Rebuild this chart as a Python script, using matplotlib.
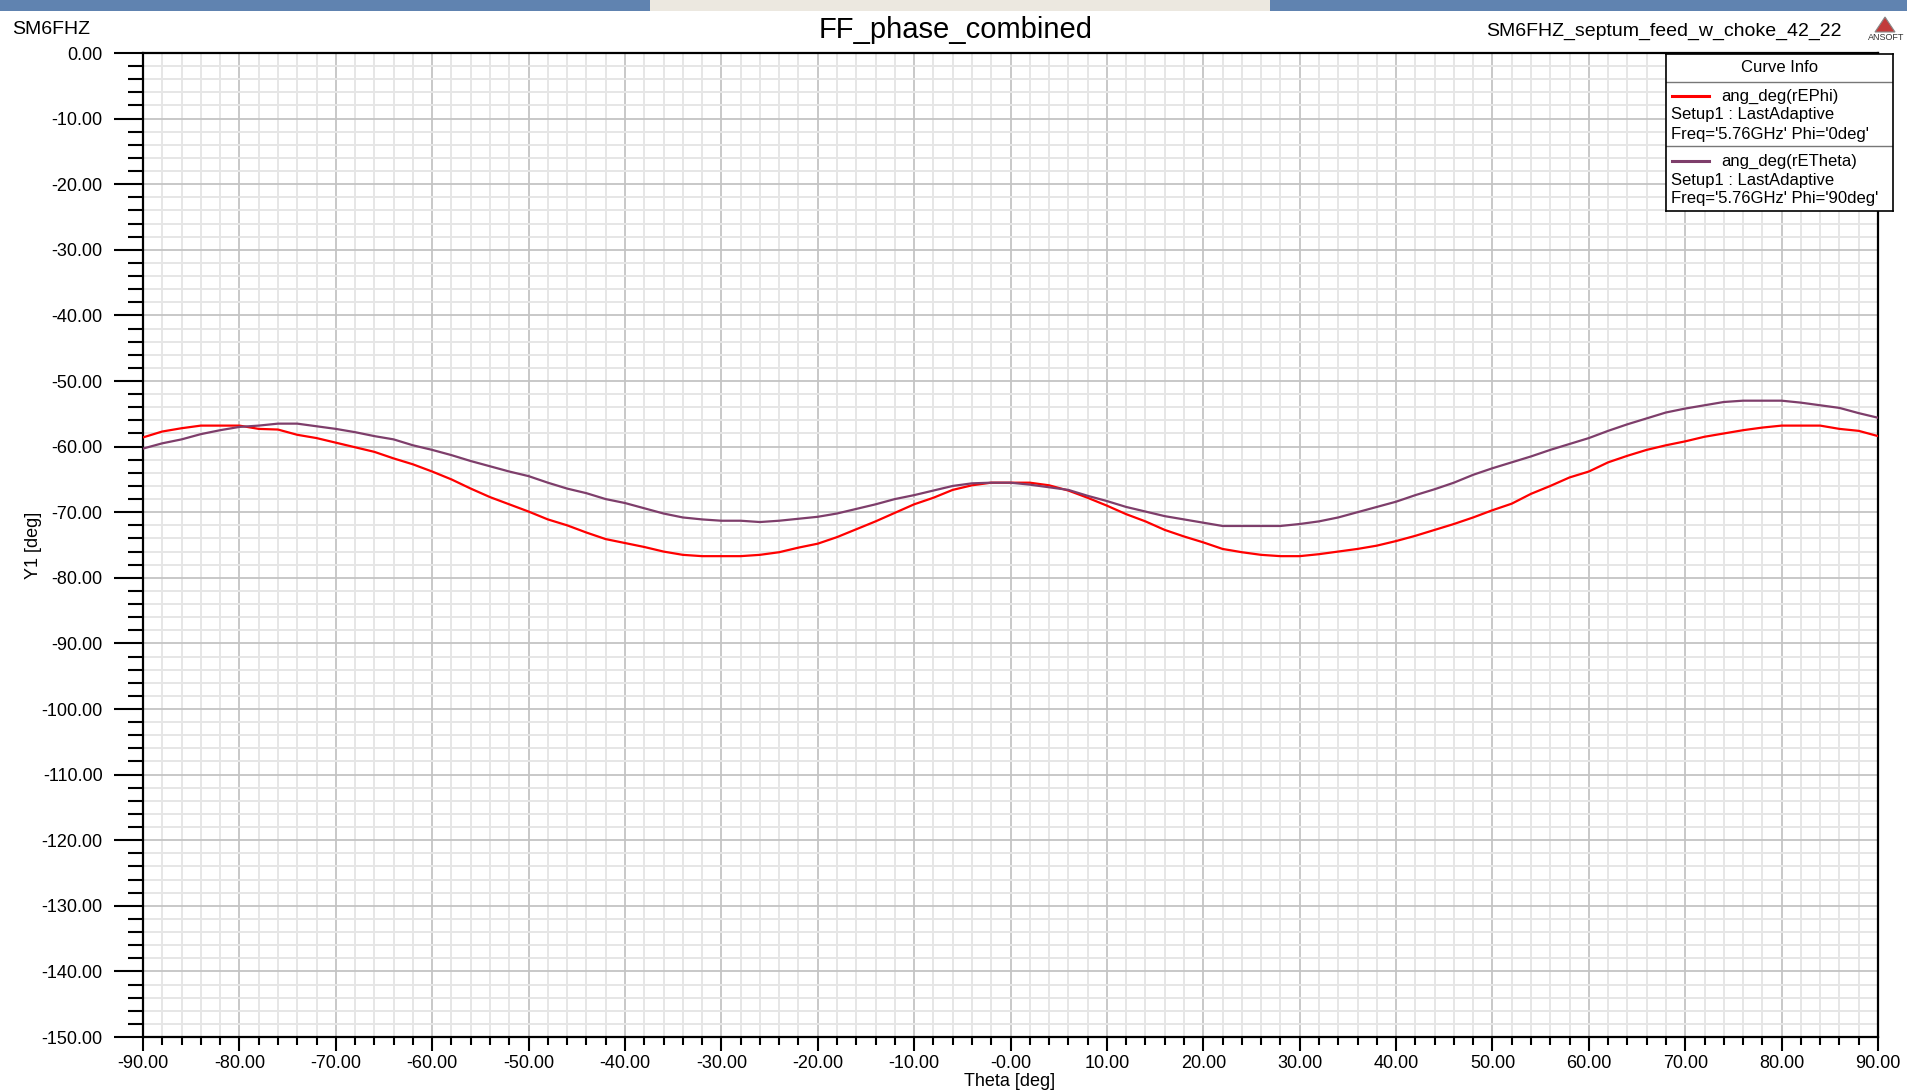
"""
FF_phase_combined - far-field phase of the septum feed (HFSS style plot)
"""

import matplotlib
matplotlib.use("Agg")
import matplotlib.pyplot as plt
from matplotlib.patches import Rectangle, Polygon
from matplotlib.ticker import MultipleLocator

plt.rcParams["font.family"] = ["Liberation Sans", "DejaVu Sans"]

W, H = 1907, 1092

# theta sweep, 2 deg steps
theta = list(range(-90, 91, 2))

# ang_deg(rEPhi), Phi = 0deg
phase_ephi = [
    -58.6, -57.7, -57.2, -56.8, -56.8, -56.8, -57.3, -57.4, -58.2, -58.7,
    -59.4, -60.1, -60.8, -61.8, -62.7, -63.8, -65.0, -66.4, -67.7, -68.8,
    -69.9, -71.1, -72.0, -73.1, -74.1, -74.7, -75.3, -76.0, -76.5, -76.7,
    -76.7, -76.7, -76.5, -76.1, -75.4, -74.8, -73.8, -72.6, -71.4, -70.1,
    -68.8, -67.8, -66.6, -65.9, -65.5, -65.5, -65.5, -65.9, -66.7, -67.8,
    -69.0, -70.3, -71.4, -72.7, -73.7, -74.6, -75.6, -76.1, -76.5, -76.7,
    -76.7, -76.4, -76.0, -75.6, -75.1, -74.4, -73.6, -72.7, -71.8, -70.8,
    -69.7, -68.7, -67.2, -66.0, -64.7, -63.8, -62.4, -61.4, -60.5, -59.8,
    -59.2, -58.5, -58.0, -57.5, -57.1, -56.8, -56.8, -56.8, -57.3, -57.6,
    -58.4,
]

# ang_deg(rETheta), Phi = 90deg
phase_etheta = [
    -60.3, -59.5, -58.9, -58.1, -57.5, -57.0, -56.8, -56.5, -56.5, -56.9,
    -57.3, -57.8, -58.4, -58.9, -59.8, -60.5, -61.3, -62.2, -63.0, -63.8,
    -64.5, -65.5, -66.4, -67.1, -68.0, -68.6, -69.4, -70.2, -70.8, -71.1,
    -71.3, -71.3, -71.5, -71.3, -71.0, -70.7, -70.2, -69.5, -68.8, -68.0,
    -67.4, -66.7, -66.0, -65.6, -65.5, -65.5, -65.8, -66.2, -66.6, -67.5,
    -68.3, -69.2, -69.9, -70.6, -71.1, -71.6, -72.1, -72.1, -72.1, -72.1,
    -71.8, -71.4, -70.8, -70.0, -69.2, -68.4, -67.4, -66.5, -65.5, -64.3,
    -63.3, -62.4, -61.5, -60.5, -59.6, -58.7, -57.6, -56.6, -55.7, -54.8,
    -54.2, -53.7, -53.2, -53.0, -53.0, -53.0, -53.3, -53.7, -54.1, -54.9,
    -55.6,
]

x_ticks = list(range(-90, 91, 10))
x_tick_labels = ["-90.00", "-80.00", "-70.00", "-60.00", "-50.00", "-40.00",
                 "-30.00", "-20.00", "-10.00", "-0.00", "10.00", "20.00",
                 "30.00", "40.00", "50.00", "60.00", "70.00", "80.00", "90.00"]
y_ticks = list(range(0, -151, -10))
y_tick_labels = [f"{v:.2f}" for v in y_ticks]

legend_rows = [
    ("ang_deg(rEPhi)", "Setup1 : LastAdaptive", "Freq='5.76GHz' Phi='0deg'", "#ff0000"),
    ("ang_deg(rETheta)", "Setup1 : LastAdaptive", "Freq='5.76GHz' Phi='90deg'", "#7e3e6b"),
]


def px(x, y):
    """pixel (from top-left) -> figure fraction"""
    return x / W, 1 - y / H


fig = plt.figure(figsize=(W / 100, H / 100), dpi=100)
fig.patch.set_facecolor("white")

# window title strip of the screenshot
fig.add_artist(Rectangle(px(0, 11), 1, 11 / H, transform=fig.transFigure,
                         facecolor="#6083b0", edgecolor="none"))
fig.add_artist(Rectangle(px(650, 11), 620 / W, 11 / H, transform=fig.transFigure,
                         facecolor="#ece8e0", edgecolor="none"))

ax = fig.add_axes([143 / W, 1 - 1037 / H, (1878 - 143) / W, (1037 - 53) / H])

ax.plot(theta, phase_ephi, color=legend_rows[0][3], lw=1.6, zorder=3)
ax.plot(theta, phase_etheta, color=legend_rows[1][3], lw=1.6, zorder=3)

ax.set_xlim(-90, 90)
ax.set_ylim(-150, 0)
ax.set_xticks(x_ticks)
ax.set_xticklabels(x_tick_labels)
ax.set_yticks(y_ticks)
ax.set_yticklabels(y_tick_labels)
ax.xaxis.set_minor_locator(MultipleLocator(2))
ax.yaxis.set_minor_locator(MultipleLocator(2))

ax.set_axisbelow(True)
ax.grid(which="minor", color="#e6e6e6", lw=1.4)
ax.grid(which="major", color="#c4c4c4", lw=1.3)

for s in ax.spines.values():
    s.set_color("black")
    s.set_linewidth(1.6)

ax.tick_params(axis="y", which="major", direction="out", length=21, width=1.5,
               pad=8, labelsize=13, colors="black")
ax.tick_params(axis="y", which="minor", direction="out", length=11, width=1.5)
ax.tick_params(axis="x", which="major", direction="out", length=10, width=1.5,
               pad=3, labelsize=13, colors="black")
ax.tick_params(axis="x", which="minor", direction="out", length=6, width=1.5)

fig.text(*px(1010, 1081), "Theta [deg]", ha="center", va="center", fontsize=13)
fig.text(*px(33, 545), "Y1 [deg]", ha="center", va="center", fontsize=13,
         rotation=90)

# header texts
fig.text(*px(12, 30), "SM6FHZ", ha="left", va="center", fontsize=14)
fig.text(*px(956, 30), "FF_phase_combined", ha="center", va="center", fontsize=21)
fig.text(*px(1842, 31), "SM6FHZ_septum_feed_w_choke_42_22", ha="right",
         va="center", fontsize=14)

# ANSOFT logo
fig.add_artist(Polygon([px(1875, 32), px(1885, 17), px(1895, 32)], closed=True,
                       transform=fig.transFigure, facecolor="#c23b3b",
                       edgecolor="#888888", lw=0.8))
fig.text(*px(1886, 38), "ANSOFT", ha="center", va="center", fontsize=6.5,
         color="#333333")

# curve info box
lx0, lx1, ly0, ly1 = 1666, 1893, 54, 211
lax = fig.add_axes([lx0 / W, 1 - ly1 / H, (lx1 - lx0) / W, (ly1 - ly0) / H])
lax.set_xlim(lx0, lx1)
lax.set_ylim(ly1, ly0)
lax.set_xticks([])
lax.set_yticks([])
lax.set_facecolor("white")
for s in lax.spines.values():
    s.set_color("black")
    s.set_linewidth(1.2)

lax.text((lx0 + lx1) / 2, 68, "Curve Info", ha="center", va="center", fontsize=12)
lax.axhline(82, color="#777777", lw=1)
lax.axhline(146, color="#777777", lw=1)
for i, (name, setup, freq, color) in enumerate(legend_rows):
    y0 = 96 + 65 * i
    lax.plot([1672, 1709], [y0, y0], color=color, lw=2.2)
    lax.text(1721, y0, name, ha="left", va="center", fontsize=12)
    lax.text(1671, y0 + 19, setup, ha="left", va="center", fontsize=12)
    lax.text(1671, y0 + 38, freq, ha="left", va="center", fontsize=12)

fig.savefig("out.png", dpi=100)
